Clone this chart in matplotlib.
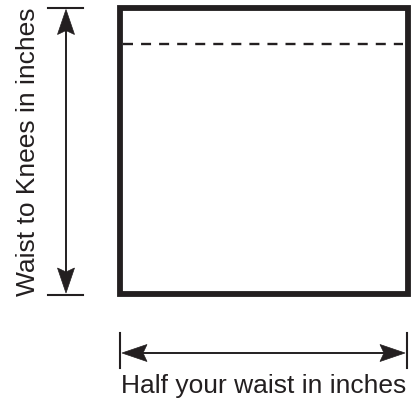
import matplotlib.pyplot as plt
from matplotlib.patches import Rectangle, Polygon

# layout of the pattern sketch, in pixels of the 413x404 picture
rect_x = [119.5, 408]      # left, right edges of the pattern block
rect_y = [8, 294]          # top, bottom edges
dash_y = 44                # dashed waistline
vert_arrow_x = 66
vert_arrow_y = [7.5, 295]
horiz_arrow_y = 353
horiz_arrow_x = [120, 407]
labels = ["Waist to Knees in inches", "Half your waist in inches"]

ink = '#231f20'
plt.rcParams['lines.scale_dashes'] = False

fig = plt.figure(figsize=(4.13, 4.04), dpi=100)
ax = fig.add_axes([0, 0, 1, 1])
ax.set_xlim(0, 413)
ax.set_ylim(404, 0)
ax.axis('off')


def head(ax, tip, direction, length=25, half=8.5, notch=4):
    # notched triangular arrowhead, direction = (dx, dy) unit vector
    dx, dy = direction
    px, py = -dy, dx
    tx, ty = tip
    bx, by = tx + dx*length, ty + dy*length
    pts = [(tx, ty),
           (bx + px*half, by + py*half),
           (tx + dx*(length - notch), ty + dy*(length - notch)),
           (bx - px*half, by - py*half)]
    ax.add_patch(Polygon(pts, closed=True, facecolor=ink, edgecolor=ink, lw=0.5))


# pattern block
ax.add_patch(Rectangle((rect_x[0], rect_y[0]), rect_x[1]-rect_x[0], rect_y[1]-rect_y[0],
                       fill=False, edgecolor=ink, lw=4.2, joinstyle='miter'))
ax.plot([rect_x[0]+3.5, rect_x[1]-5], [dash_y, dash_y], color=ink, lw=1.7,
        dashes=(7.2, 5.8))

# vertical dimension arrow
ax.plot([vert_arrow_x, vert_arrow_x], [vert_arrow_y[0]+10, vert_arrow_y[1]-10], color=ink, lw=1.4)
ax.plot([vert_arrow_x-18, vert_arrow_x+17], [vert_arrow_y[0]]*2, color=ink, lw=1.5)
ax.plot([vert_arrow_x-18, vert_arrow_x+17], [vert_arrow_y[1]]*2, color=ink, lw=1.5)
head(ax, (vert_arrow_x, vert_arrow_y[0]+2), (0, 1))
head(ax, (vert_arrow_x, vert_arrow_y[1]-2), (0, -1))

# horizontal dimension arrow
ax.plot([horiz_arrow_x[0]+10, horiz_arrow_x[1]-10], [horiz_arrow_y]*2, color=ink, lw=1.4)
ax.plot([horiz_arrow_x[0]]*2, [horiz_arrow_y-20, horiz_arrow_y+15], color=ink, lw=1.5)
ax.plot([horiz_arrow_x[1]]*2, [horiz_arrow_y-20, horiz_arrow_y+15], color=ink, lw=1.5)
head(ax, (horiz_arrow_x[0]+2, horiz_arrow_y), (1, 0))
head(ax, (horiz_arrow_x[1]-2, horiz_arrow_y), (-1, 0))

ax.text(35, 151.5, labels[0], rotation=90, ha='center', va='baseline',
        rotation_mode='anchor', fontsize=19, family='Liberation Sans', color=ink)
ax.text(264, 393, labels[1], ha='center', va='baseline',
        fontsize=19, family='Liberation Sans', color=ink)

fig.savefig('out.png', dpi=100)
